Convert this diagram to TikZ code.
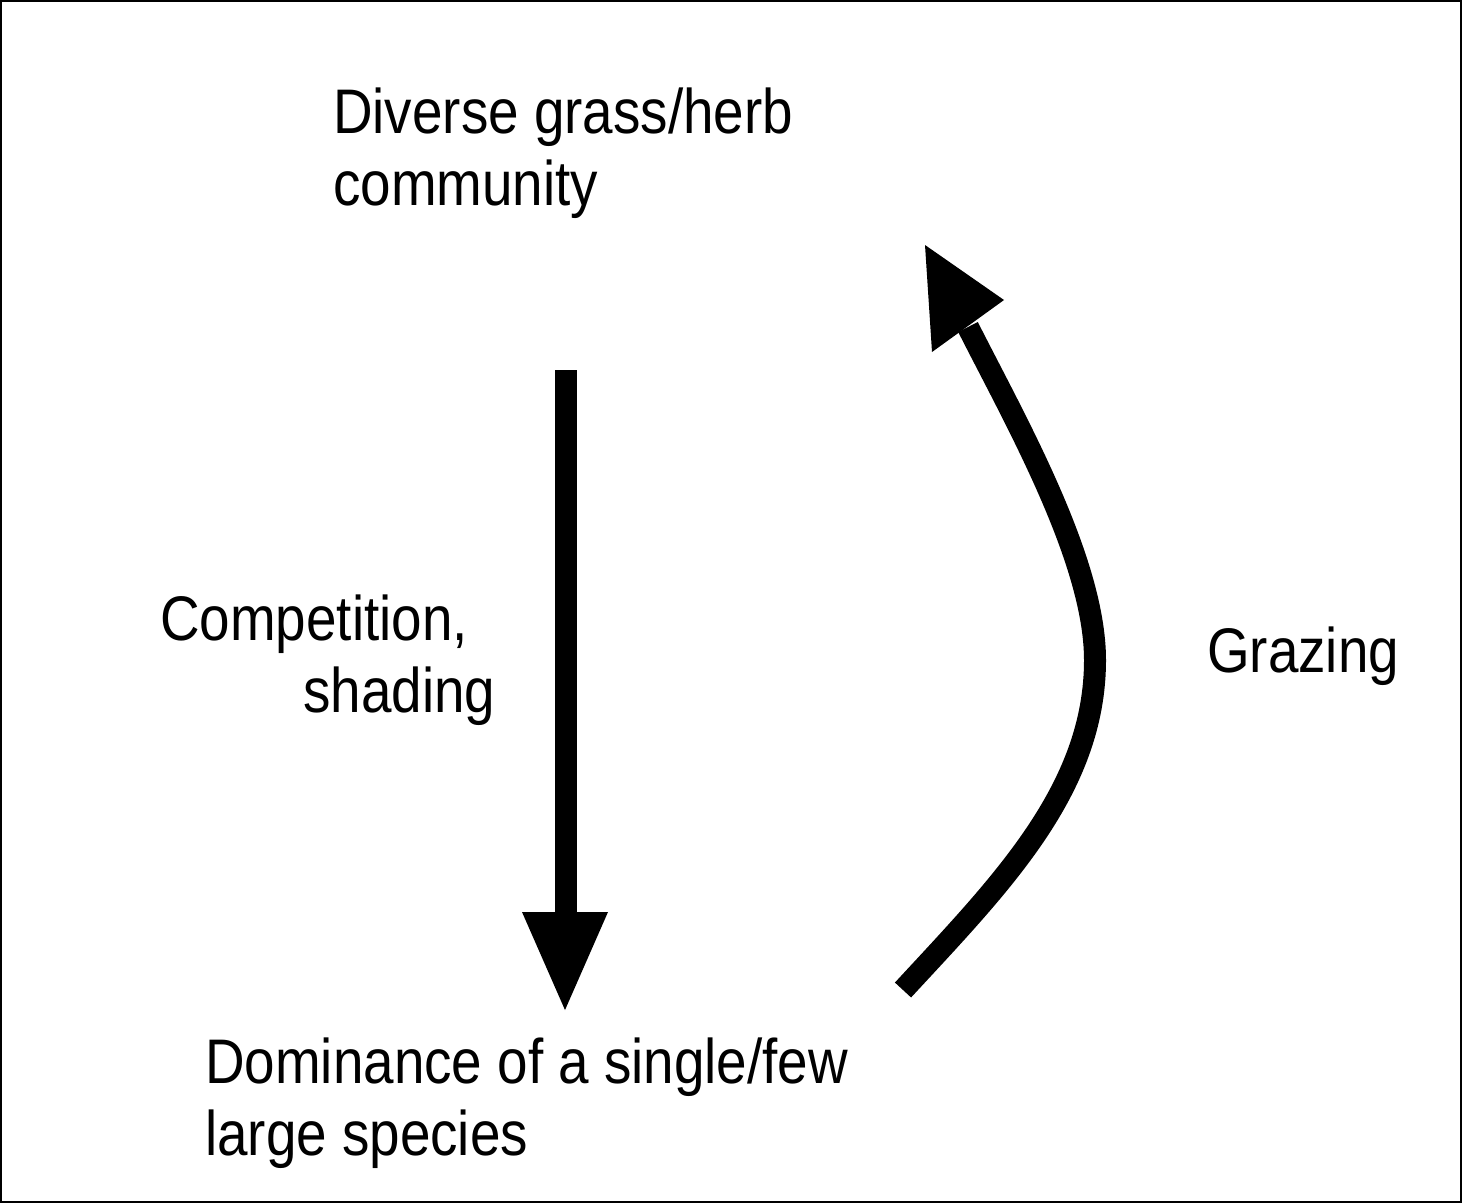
\documentclass[tikz,border=0pt]{standalone}
\usepackage{fontspec}
\setmainfont{Liberation Sans}[FakeStretch=0.87]
\begin{document}
\begin{tikzpicture}[x=1pt,y=-1pt,
  lbl/.style={anchor=base west,inner sep=0pt,align=left,font=\fontsize{63}{72}\selectfont},
  shaft/.style={line width=22pt,line cap=butt},
  head/.style={fill=black,draw=none}]
\useasboundingbox (0,0) rectangle (1462,1203);
\draw[line width=2pt] (1,1) rectangle (1461,1202);
\node[lbl] (top) at (333,205) {Diverse grass/herb\\community};
\node[lbl] (comp) at (160,712) {Competition,\\\hspace*{143pt}shading};
\node[lbl] (graz) at (1207,672) {Grazing};
\node[lbl] (bot) at (205,1155) {Dominance of a single/few\\large species};
% down arrow
\coordinate (d0) at (566,370);
\coordinate (d1) at (566,913);
\coordinate (dtip) at (565,1010);
\draw[shaft] (d0) -- (d1);
\fill[head] (522,912) -- (608,912) -- (dtip) -- cycle;
% curved arrow
\coordinate (c0) at (903,990);
\coordinate (cm) at (1095,660);
\coordinate (c1) at (968,327);
\coordinate (ctip) at (925,245);
\draw[shaft] (c0) .. controls (1000,885) and (1095,790) .. (cm) .. controls (1095,560) and (1015,420) .. (c1);
\fill[head] (1004,300) -- (932,352) -- (ctip) -- cycle;
\end{tikzpicture}
\end{document}
